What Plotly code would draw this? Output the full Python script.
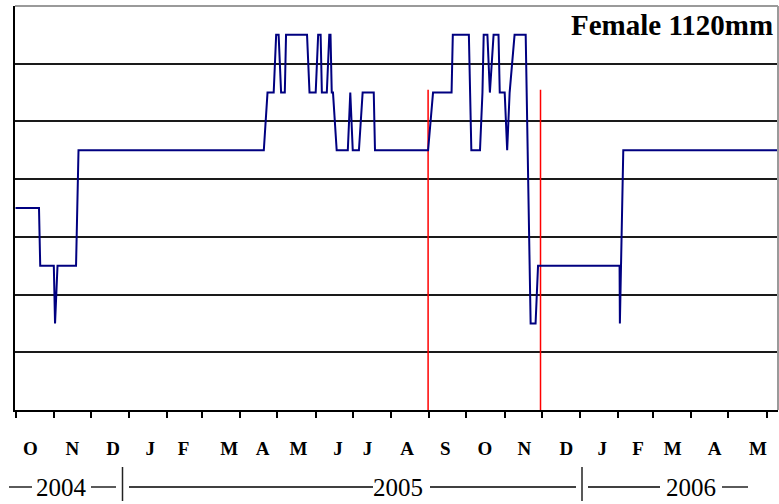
import plotly.graph_objects as go

# ---------------- data ----------------
dates = [
    "2004-10-01", "2004-10-20", "2004-10-21", "2004-11-01", "2004-11-02", "2004-11-04",
    "2004-11-19", "2004-11-21", "2005-04-20", "2005-04-23", "2005-04-28", "2005-04-30",
    "2005-05-02", "2005-05-04", "2005-05-07", "2005-05-08", "2005-05-25", "2005-05-27",
    "2005-06-01", "2005-06-03", "2005-06-05", "2005-06-06", "2005-06-10", "2005-06-12",
    "2005-06-13", "2005-06-14", "2005-06-15", "2005-06-18", "2005-06-27", "2005-06-29",
    "2005-07-01", "2005-07-06", "2005-07-09", "2005-07-18", "2005-07-19", "2005-08-31",
    "2005-09-04", "2005-09-19", "2005-09-20", "2005-10-03", "2005-10-05", "2005-10-12",
    "2005-10-14", "2005-10-15", "2005-10-18", "2005-10-20", "2005-10-23", "2005-10-27",
    "2005-10-28", "2005-11-01", "2005-11-03", "2005-11-05", "2005-11-09", "2005-11-18",
    "2005-11-22", "2005-11-26", "2005-11-28", "2006-02-02", "2006-02-02 06:00",
    "2006-02-05", "2006-06-11",
]
depth_zone = [
    3.5, 3.5, 2.5, 2.5, 1.5, 2.5,
    2.5, 4.5, 4.5, 5.5, 5.5, 6.5,
    6.5, 5.5, 5.5, 6.5, 6.5, 5.5,
    5.5, 6.5, 6.5, 5.5, 5.5, 6.5,
    6.5, 5.5, 5.5, 4.5, 4.5, 5.5,
    4.5, 4.5, 5.5, 5.5, 4.5, 4.5,
    5.5, 5.5, 6.5, 6.5, 4.5, 4.5,
    5.5, 6.5, 6.5, 5.5, 6.5, 6.5,
    5.5, 5.5, 4.5, 5.5, 6.5, 6.5,
    1.5, 1.5, 2.5, 2.5, 1.5,
    4.5, 4.5,
]

marker_dates = ["2005-08-31", "2005-11-30"]
marker_top = 5.55

month_starts = [
    "2004-10-01", "2004-11-01", "2004-12-01", "2005-01-01", "2005-02-01", "2005-03-01",
    "2005-04-01", "2005-05-01", "2005-06-01", "2005-07-01", "2005-08-01", "2005-09-01",
    "2005-10-01", "2005-11-01", "2005-12-01", "2006-01-01", "2006-02-01", "2006-03-01",
    "2006-04-01", "2006-05-01", "2006-06-01",
]
month_label_dates = [
    "2004-10-13", "2004-11-16", "2004-12-19", "2005-01-18", "2005-02-14", "2005-03-23",
    "2005-04-19", "2005-05-18", "2005-06-19", "2005-07-13", "2005-08-14", "2005-09-14",
    "2005-10-16", "2005-11-17", "2005-12-21", "2006-01-19", "2006-02-17", "2006-03-17",
    "2006-04-20", "2006-05-25",
]
month_labels = ["O", "N", "D", "J", "F", "M", "A", "M", "J", "J",
                "A", "S", "O", "N", "D", "J", "F", "M", "A", "M"]

years = ["2004", "2005", "2006"]
year_label_dates = ["2004-11-07", "2005-08-07", "2006-04-01"]

y_levels = [1, 2, 3, 4, 5, 6]
title_text = "Female 1120mm"

# ---------------- figure ----------------
W, H = 779, 504
L, R, T, B = 15, 1, 6, 94
PW, PH = W - L - R, H - T - B

def px_x(p):
    return (p - L) / PW

def px_y(p):
    return (H - B - p) / PH

FONT = "Liberation Serif, Times New Roman, serif"

fig = go.Figure()

for d in marker_dates:
    fig.add_trace(go.Scatter(
        x=[d, d], y=[0, marker_top], mode="lines",
        line=dict(color="#ff0000", width=1.5), hoverinfo="skip", showlegend=False,
    ))

fig.add_trace(go.Scatter(
    x=dates, y=depth_zone, mode="lines",
    line=dict(color="#000080", width=2), showlegend=False,
))

shapes = []
shapes.append(dict(type="line", xref="paper", yref="paper", x0=0, x1=1, y0=1, y1=1,
                   line=dict(color="#9a9a9a", width=2)))
shapes.append(dict(type="line", xref="paper", yref="paper", x0=1, x1=1, y0=0, y1=1,
                   line=dict(color="#9a9a9a", width=2)))

year_row_y = px_y(487)
for a, b in [(9, 32), (91, 116), (129, 373), (430, 576), (588, 660), (722, 748)]:
    shapes.append(dict(type="line", xref="paper", yref="paper",
                       x0=px_x(a), x1=px_x(b), y0=year_row_y, y1=year_row_y,
                       line=dict(color="black", width=1.3)))
for p in [122.5, 582]:
    shapes.append(dict(type="line", xref="paper", yref="paper",
                       x0=px_x(p), x1=px_x(p), y0=px_y(467), y1=px_y(501),
                       line=dict(color="#222222", width=1.5)))

annotations = []
for yr, d in zip(years, year_label_dates):
    annotations.append(dict(text=yr, x=d, xref="x", y=year_row_y, yref="paper",
                            xanchor="center", yanchor="middle", showarrow=False,
                            font=dict(family=FONT, size=25, color="black")))
annotations.append(dict(text=f"<b>{title_text}</b>", x=px_x(775), xref="paper",
                        y=px_y(25), yref="paper", xanchor="right", yanchor="middle",
                        showarrow=False, font=dict(family=FONT, size=29, color="black")))

fig.update_layout(
    width=W, height=H,
    margin=dict(l=L, r=R, t=T, b=B, pad=0),
    paper_bgcolor="white", plot_bgcolor="white",
    shapes=shapes, annotations=annotations,
    font=dict(family=FONT, color="black"),
    xaxis=dict(
        type="date",
        range=["2004-09-30 14:00", "2006-06-10 06:00"],
        tickmode="array", tickvals=month_label_dates, ticktext=month_labels,
        ticks="", showgrid=False, zeroline=False,
        tickfont=dict(family=FONT, size=19, color="black", weight="bold"),
        ticklabelstandoff=20,
        showline=True, linecolor="black", linewidth=2,
        minor=dict(tickmode="array", tickvals=month_starts, ticks="outside",
                   ticklen=6, tickwidth=1.5, tickcolor="black", showgrid=False),
    ),
    yaxis=dict(
        range=[0, 7], tickmode="array", tickvals=y_levels, showticklabels=False,
        ticks="", showgrid=True, gridcolor="#1a1a1a", gridwidth=2,
        zeroline=False, showline=True, linecolor="black", linewidth=2,
    ),
)

fig.write_html(
    "out.html",
    config={"displayModeBar": False},
    post_script="document.body.style.margin='0';document.body.style.overflow='hidden';",
)
